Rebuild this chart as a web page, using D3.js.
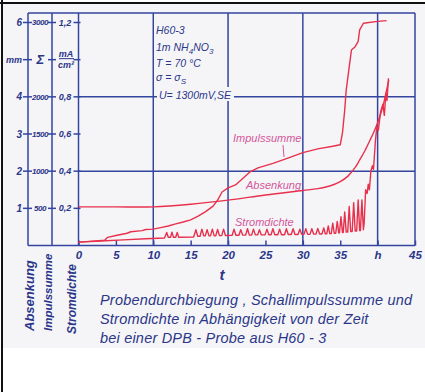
<!DOCTYPE html>
<html>
<head>
<meta charset="utf-8">
<script src="https://cdn.jsdelivr.net/npm/d3@7"></script>
<style>
  body { margin: 0; background: #fff; }
  svg { display: block; }
  text { font-family: 'Liberation Sans', Arial, sans-serif; font-style: italic; }
</style>
</head>
<body>
<div id="chart"></div>
<script>
// time axis (t in h)
const tTicks = [0, 5, 10, 15, 20, 25, 30, 35, 40, 45];
const tLabels = ['0', '5', '10', '15', '20', '25', '30', '35', 'h', '45'];
const tGrid = [10, 20, 30, 40];

// the three stacked y axes
const mmTicks = [1, 2, 3, 4, 5, 6];
const mmLabels = ['1', '2', '3', '4', 'mm', '6'];
const impTicks = [500, 1000, 1500, 2000, 2500, 3000];
const impLabels = ['500', '1000', '1500', '2000', 'Σ', '3000'];
const stromTicks = [0.2, 0.4, 0.6, 0.8, 1.0, 1.2];
const stromLabels = ['0,2', '0,4', '0,6', '0,8', '', '1,2'];
const stromGrid = [0.4, 0.8];

// Absenkung [t, mm]
const absenkung = [
  [0, 1.04], [5, 1.04], [10, 1.04], [15, 1.11], [20, 1.22], [25, 1.36],
  [30, 1.48], [32, 1.53], [33.6, 1.6], [35, 1.72], [36, 1.86], [37, 2.1],
  [37.6, 2.3], [38.3, 2.55], [39, 2.84], [39.6, 3.1], [40, 3.3], [40.7, 3.74],
  [41.2, 4.18], [41.5, 4.45]
];

// Impulssumme [t, count]
const impulssumme = [
  [0, 45], [1.5, 55], [3.5, 70], [3.9, 110], [5, 135], [6.5, 165], [7, 185],
  [8.5, 200], [9, 215], [10, 220], [11, 240], [12, 262], [13, 290], [14, 316],
  [15, 345], [16, 395], [17, 455], [18, 530], [18.6, 610], [19.2, 720],
  [20, 775], [21, 815], [22, 905], [23, 995], [24, 1045], [26, 1105],
  [28, 1175], [30, 1250], [32, 1300], [34, 1335], [35, 1355], [35.3, 1515],
  [35.6, 1820], [35.8, 2090], [36.2, 2400], [36.5, 2630], [37, 2675],
  [37.4, 2745], [37.6, 2900], [38.1, 2990], [40, 3015], [41.2, 3025]
];

// Stromdichte [t, mA/cm2]
const stromdichte = [
  [0, 0.018], [3, 0.024], [6, 0.03], [9, 0.036], [11.5, 0.04],
  [11.8, 0.07], [12.0, 0.044], [12.3, 0.044], [12.5, 0.072], [12.7, 0.044],
  [13.0, 0.044], [13.2, 0.07], [13.4, 0.044], [15.4, 0.046],
  [15.7, 0.085], [15.95, 0.05], [16.25, 0.05], [16.5, 0.088], [16.75, 0.052],
  [16.95, 0.052], [17.2, 0.085], [17.45, 0.052], [17.65, 0.052], [17.9, 0.088],
  [18.15, 0.052], [18.35, 0.052], [18.6, 0.086], [18.85, 0.053], [19.15, 0.053],
  [19.4, 0.088], [19.65, 0.054], [20.55, 0.055], [20.8, 0.088], [21.05, 0.055],
  [21.45, 0.055], [21.7, 0.085], [21.95, 0.056], [22.35, 0.056], [22.6, 0.09],
  [22.85, 0.056], [23.15, 0.056], [23.4, 0.088], [23.65, 0.057], [23.95, 0.057],
  [24.2, 0.085], [24.45, 0.057], [24.95, 0.057], [25.2, 0.088], [25.45, 0.058],
  [25.75, 0.058], [26.0, 0.09], [26.25, 0.058], [26.65, 0.058], [26.9, 0.088],
  [27.15, 0.058], [27.55, 0.058], [27.8, 0.09], [28.05, 0.059], [28.45, 0.059],
  [28.7, 0.09], [28.95, 0.059], [29.35, 0.059], [29.6, 0.088], [29.85, 0.06],
  [30.15, 0.06], [30.4, 0.09], [30.65, 0.06], [30.95, 0.06], [31.2, 0.09],
  [31.45, 0.061], [31.75, 0.061], [32.0, 0.092], [32.25, 0.062], [32.55, 0.062],
  [32.8, 0.095], [33.0, 0.063], [33.2, 0.063], [33.4, 0.105], [33.6, 0.064],
  [33.8, 0.064], [34.0, 0.12], [34.2, 0.066], [34.4, 0.066], [34.6, 0.13],
  [34.8, 0.068], [34.9, 0.068], [35.1, 0.155], [35.3, 0.07], [35.4, 0.07],
  [35.6, 0.18], [35.8, 0.072], [36.0, 0.072], [36.2, 0.21], [36.4, 0.075],
  [36.6, 0.075], [36.8, 0.23], [37.0, 0.078], [37.2, 0.078], [37.4, 0.245],
  [37.6, 0.08], [37.7, 0.08], [37.9, 0.245], [38.1, 0.085], [38.2, 0.12],
  [38.4, 0.3], [38.6, 0.28], [38.75, 0.33], [38.9, 0.3], [39.1, 0.4],
  [39.3, 0.43], [39.45, 0.41], [39.7, 0.56], [39.9, 0.64], [40.1, 0.62],
  [40.4, 0.72], [40.7, 0.76], [40.9, 0.7], [41.1, 0.82], [41.25, 0.78],
  [41.45, 0.9]
];

const caption = [
  'Probendurchbiegung , Schallimpulssumme und',
  'Stromdichte in Abhängigkeit von der Zeit',
  'bei einer DPB - Probe aus H60 - 3'
];

const blue = '#3445a0';
const ink = '#2b3688';
const red = '#e8304c';
const pink = '#d4559a';

const W = 425, H = 392;

const svg = d3.select('#chart')
  .append('svg')
  .attr('width', W)
  .attr('height', H);

// paper + scan frame
svg.append('rect').attr('width', W).attr('height', H).attr('fill', '#fff');
svg.append('rect').attr('x', 3).attr('y', 4).attr('width', W - 3).attr('height', 344).attr('fill', '#f5f5f8');
svg.append('line').attr('x1', 0).attr('x2', W).attr('y1', 3).attr('y2', 3).attr('stroke', '#111').attr('stroke-width', 2);
svg.append('line').attr('x1', 2).attr('x2', 2).attr('y1', 0).attr('y2', H).attr('stroke', '#111').attr('stroke-width', 2);

const x = d3.scaleLinear().domain([0, 45]).range([78.5, 415]);
const yStrom = d3.scaleLinear().domain([0, 1.2]).range([245.5, 22.5]);
const yMm = d3.scaleLinear().domain([0, 6]).range(yStrom.range());
const yImp = d3.scaleLinear().domain([0, 3000]).range(yStrom.range());

const yTop = 13, yBottom = yStrom(0);
const axMm = 28, axImp = 52, axStrom = x(0), xRight = x(45);

const g = svg.append('g')
  .attr('fill', 'none')
  .attr('stroke', blue)
  .attr('stroke-width', 1.5);

// frame and grid
g.selectAll('.vgrid')
  .data(tGrid)
  .enter()
  .append('line')
  .attr('x1', d => x(d)).attr('x2', d => x(d))
  .attr('y1', yTop).attr('y2', yBottom);

g.selectAll('.hgrid')
  .data(stromGrid)
  .enter()
  .append('line')
  .attr('x1', axStrom).attr('x2', xRight)
  .attr('y1', d => yStrom(d)).attr('y2', d => yStrom(d));

[axMm, axImp, axStrom, xRight].forEach(px => {
  g.append('line').attr('x1', px).attr('x2', px).attr('y1', yTop).attr('y2', yBottom);
});
g.append('line').attr('x1', axMm).attr('x2', xRight).attr('y1', yTop).attr('y2', yTop);
g.append('line').attr('x1', axMm).attr('x2', xRight).attr('y1', yBottom).attr('y2', yBottom);

// y tick dashes
mmTicks.forEach(d => {
  g.append('line').attr('x1', axMm - 5).attr('x2', axMm + 4).attr('y1', yMm(d)).attr('y2', yMm(d));
});
impTicks.forEach(d => {
  g.append('line').attr('x1', axImp - 4).attr('x2', axImp + 4).attr('y1', yImp(d)).attr('y2', yImp(d));
});
stromTicks.forEach(d => {
  g.append('line').attr('x1', axStrom - 5).attr('x2', axStrom + 2).attr('y1', yStrom(d)).attr('y2', yStrom(d));
});

// y tick labels
const lab = svg.append('g').attr('fill', ink).attr('font-size', 9).attr('font-weight', 'bold');
lab.selectAll('.mm')
  .data(mmTicks)
  .enter()
  .append('text')
  .attr('x', axMm - 6)
  .attr('y', d => yMm(d))
  .attr('dy', '0.35em')
  .attr('text-anchor', 'end')
  .attr('font-size', (d, i) => mmLabels[i] === 'mm' ? 9 : 10)
  .text((d, i) => mmLabels[i]);
lab.selectAll('.imp')
  .data(impTicks)
  .enter()
  .append('text')
  .attr('x', 40)
  .attr('y', d => yImp(d))
  .attr('dy', '0.35em')
  .attr('text-anchor', 'middle')
  .attr('font-size', (d, i) => impLabels[i] === 'Σ' ? 13 : 8)
  .attr('letter-spacing', -0.5)
  .text((d, i) => impLabels[i]);
lab.selectAll('.strom')
  .data(stromTicks)
  .enter()
  .append('text')
  .attr('x', 65)
  .attr('y', d => yStrom(d))
  .attr('dy', '0.35em')
  .attr('text-anchor', 'middle')
  .text((d, i) => stromLabels[i]);

// mA / cm² unit as a fraction
const fy = yStrom(1.0);
lab.append('text').attr('x', 66).attr('y', fy - 3).attr('text-anchor', 'middle').text('mA');
lab.append('line').attr('x1', 59).attr('x2', 74).attr('y1', fy - 1).attr('y2', fy - 1).attr('stroke', ink).attr('stroke-width', 1);
lab.append('text').attr('x', 66).attr('y', fy + 8).attr('text-anchor', 'middle').text('cm²');

// x axis: short ticks + labels
const xAxis = d3.axisBottom(x)
  .tickValues(tTicks)
  .tickFormat((d, i) => tLabels[i])
  .tickSize(-5)
  .tickPadding(5);
const xg = svg.append('g')
  .attr('transform', `translate(0, ${yBottom})`)
  .call(xAxis);
xg.select('.domain').remove();
xg.selectAll('line').attr('stroke', blue).attr('stroke-width', 1.5);
xg.selectAll('text')
  .attr('fill', ink)
  .attr('font-size', 11.5)
  .attr('font-weight', 'bold')
  .style('font-family', "'Liberation Sans', Arial, sans-serif")
  .style('font-style', 'italic');

svg.append('text')
  .attr('x', 222).attr('y', 280)
  .attr('fill', ink).attr('font-size', 15).attr('font-weight', 'bold')
  .attr('text-anchor', 'middle')
  .text('t');

// test conditions
const notes = svg.append('g').attr('fill', ink).attr('font-size', 10.5);
notes.append('rect').attr('x', 157).attr('y', 87).attr('width', 77).attr('height', 14).attr('fill', '#f5f5f8');
notes.append('text').attr('x', 156).attr('y', 34).text('H60-3');
const n2 = notes.append('text').attr('x', 156).attr('y', 51);
n2.append('tspan').text('1m NH');
n2.append('tspan').attr('font-size', 8).attr('dy', 3).text('4');
n2.append('tspan').attr('dy', -3).text('NO');
n2.append('tspan').attr('font-size', 8).attr('dy', 3).text('3');
notes.append('text').attr('x', 156).attr('y', 67).text('T = 70 °C');
const n4 = notes.append('text').attr('x', 156).attr('y', 81);
n4.append('tspan').text('σ = σ');
n4.append('tspan').attr('font-size', 8).attr('dy', 3).text('S');
notes.append('text').attr('x', 159).attr('y', 99).text('U= 1300mV,SE');

// curves
const lineMm = d3.line()
  .x(d => x(d[0]))
  .y(d => yMm(d[1]))
  .curve(d3.curveCatmullRom.alpha(0.5));
const lineImp = d3.line()
  .x(d => x(d[0]))
  .y(d => yImp(d[1]));
const lineStrom = d3.line()
  .x(d => x(d[0]))
  .y(d => yStrom(d[1]));

const curves = svg.append('g')
  .attr('fill', 'none')
  .attr('stroke', red)
  .attr('stroke-width', 1.4)
  .attr('stroke-linejoin', 'round');
curves.append('path').attr('d', lineMm(absenkung));
curves.append('path').attr('d', lineImp(impulssumme));
curves.append('path').attr('d', lineStrom(stromdichte));

// curve names
const names = svg.append('g').attr('fill', pink).attr('font-size', 11);
names.append('text').attr('x', 233).attr('y', 142).text('Impulssumme');
names.append('line').attr('x1', 283).attr('x2', 284).attr('y1', 145).attr('y2', 157).attr('stroke', pink).attr('stroke-width', 1);
names.append('text').attr('x', 246).attr('y', 189).text('Absenkung');
names.append('text').attr('x', 235).attr('y', 226).text('Stromdichte');

// rotated axis names under the y axes
const side = svg.append('g').attr('fill', ink).attr('font-weight', 'bold');
[['Absenkung', 34, 331, 13], ['Impulssumme', 52, 331, 11.5], ['Stromdichte', 76, 334, 12]]
  .forEach(([txt, px, py, fs]) => {
    side.append('text')
      .attr('transform', `translate(${px}, ${py}) rotate(-90)`)
      .attr('font-size', fs)
      .text(txt);
  });

// caption
svg.append('g')
  .attr('fill', ink)
  .attr('font-size', 14.5)
  .attr('letter-spacing', 0.2)
  .selectAll('text')
  .data(caption)
  .enter()
  .append('text')
  .attr('x', 100)
  .attr('y', (d, i) => 305 + i * 19)
  .text(d => d);
</script>
</body>
</html>
